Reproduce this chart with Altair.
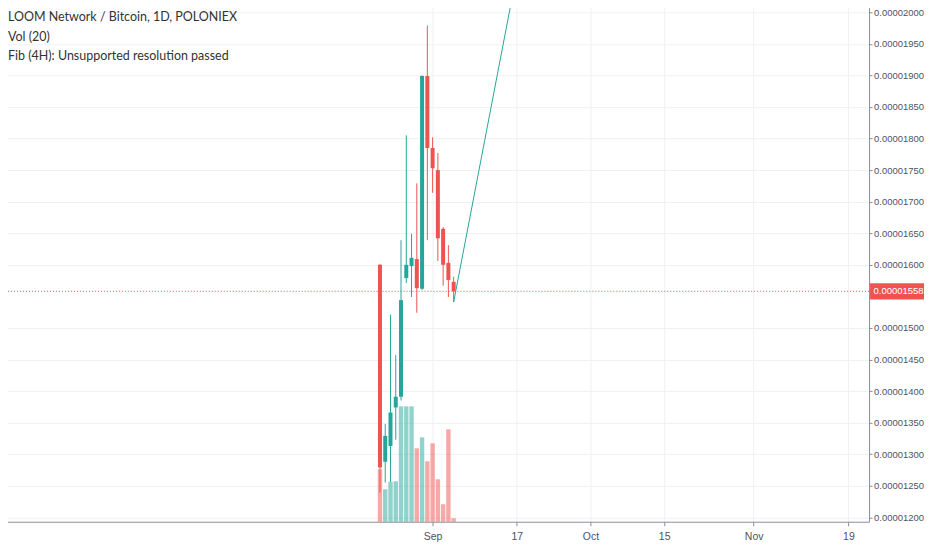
import pandas as pd
import altair as alt

# daily candles, LOOM/BTC on Poloniex (prices in BTC)
dates = ["2018-08-22", "2018-08-23", "2018-08-24", "2018-08-25", "2018-08-26",
         "2018-08-27", "2018-08-28", "2018-08-29", "2018-08-30", "2018-08-31",
         "2018-09-01", "2018-09-02", "2018-09-03", "2018-09-04", "2018-09-05"]
opens = [0.00001600, 0.00001288, 0.00001313, 0.00001374, 0.00001391,
         0.00001579, 0.00001598, 0.00001609, 0.00001562, 0.00001899,
         0.00001785, 0.00001750, 0.00001657, 0.00001603, 0.00001573]
highs = [0.00001601, 0.00001348, 0.00001521, 0.00001457, 0.00001639,
         0.00001805, 0.00001649, 0.00001729, 0.00001900, 0.00001979,
         0.00001802, 0.00001777, 0.00001660, 0.00001631, 0.00001581]
lows = [0.00001239, 0.00001255, 0.00001256, 0.00001323, 0.00001385,
        0.00001571, 0.00001549, 0.00001524, 0.00001560, 0.00001639,
        0.00001714, 0.00001606, 0.00001567, 0.00001549, 0.00001541]
closes = [0.00001279, 0.00001329, 0.00001366, 0.00001391, 0.00001544,
          0.00001600, 0.00001611, 0.00001563, 0.00001899, 0.00001785,
          0.00001753, 0.00001642, 0.00001600, 0.00001576, 0.00001558]
volumes = [5.25, 3.25, 4.0, 4.05, 11.55, 11.55, 11.55, 7.35,
           8.45, 6.05, 7.85, 4.25, 1.75, 9.25, 0.35]

# trend line drawn from the last low
trend_dates = ["2018-09-05", "2018-09-17"]
trend_prices = [0.00001541, 0.00002062]

last_price = 0.00001558

header_lines = ["LOOM Network / Bitcoin, 1D, POLONIEX",
                "Vol (20)",
                "Fib (4H): Unsupported resolution passed"]

tick_dates = ["2018-09-01", "2018-09-17", "2018-10-01",
              "2018-10-15", "2018-11-01", "2018-11-19"]
# 0.00001550 sits under the last-price tag, so it is not listed
price_ticks = [0.00001200, 0.00001250, 0.00001300, 0.00001350, 0.00001400,
               0.00001450, 0.00001500, 0.00001600, 0.00001650,
               0.00001700, 0.00001750, 0.00001800, 0.00001850, 0.00001900,
               0.00001950, 0.00002000]

UP = "#26a69a"
DOWN = "#ef5350"
W, H = 869, 522
AXIS_FONT = "Liberation Sans"
PRICE_FONT_SIZE = 9.5


def to_dt(s, hours=0, minutes=0):
    y, m, d = (int(p) for p in s.split("-"))
    return alt.DateTime(year=y, month=m, date=d, hours=hours, minutes=minutes)


df = pd.DataFrame({
    "date": pd.to_datetime(dates),
    "open": opens, "high": highs, "low": lows, "close": closes,
    "volume": volumes,
})
df["dir"] = ["up" if c >= o else "down" for o, c in zip(opens, closes)]

trend = pd.DataFrame({"date": pd.to_datetime(trend_dates), "price": trend_prices})
price_df = pd.DataFrame({"price": [last_price], "label": [f"{last_price:.8f}"]})

x_scale = alt.Scale(domain=[to_dt("2018-06-11", 22, 48), to_dt("2018-11-21", 23, 24)])
y_scale = alt.Scale(domain=[0.00001193, 0.00002019], zero=False, nice=False)
color = alt.Color("dir:N", scale=alt.Scale(domain=["up", "down"], range=[UP, DOWN]), legend=None)

x_axis = alt.Axis(
    title=None, values=[to_dt(t) for t in tick_dates], tickCount=len(tick_dates),
    labelExpr="date(datum.value) == 1 ? timeFormat(datum.value, '%b') : timeFormat(datum.value, '%-d')",
    grid=True, tickSize=4, labelPadding=6, labelFontSize=10.5,
)
y_axis = alt.Axis(title=None, orient="right", values=price_ticks, tickCount=len(price_ticks),
                  format=".8f", grid=True, tickSize=3, labelPadding=1.5, labelOverlap=False,
                  labelFontSize=PRICE_FONT_SIZE)

base = alt.Chart(df).encode(x=alt.X("date:T", scale=x_scale, axis=x_axis))

volume = base.mark_bar(size=4.4, opacity=0.5).encode(
    y=alt.Y("volume:Q", scale=alt.Scale(domain=[0, 52.2]), axis=None),
    color=color,
)

wicks = base.mark_rule(strokeWidth=1).encode(
    y=alt.Y("low:Q", scale=y_scale, axis=y_axis),
    y2="high:Q",
    color=color,
)
bodies = base.mark_bar(size=4).encode(y="open:Q", y2="close:Q", color=color)

trend_line = alt.Chart(trend).mark_line(color=UP, strokeWidth=1, clip=True).encode(
    x="date:T", y="price:Q"
)

price_rule = alt.Chart(price_df).mark_rule(color=DOWN, strokeDash=[1, 2], strokeWidth=1).encode(
    y="price:Q"
)
price_box = alt.Chart(price_df).mark_point(
    shape="M-1,-0.3L1,-0.3L1,0.3L-1,0.3Z", filled=True, opacity=1,
    size=54 * 54, color=DOWN,
).encode(x=alt.value(W + 28), y="price:Q")
price_text = alt.Chart(price_df).mark_text(
    align="left", baseline="middle", color="white", fontSize=PRICE_FONT_SIZE, font=AXIS_FONT,
).encode(x=alt.value(W + 4.5), y="price:Q", text="label:N")

headers = [
    alt.Chart(pd.DataFrame({"t": [line]})).mark_text(
        align="left", baseline="middle", fontSize=12.5, font="Lato", color="#333333",
    ).encode(x=alt.value(7), y=alt.value(17 + 19.5 * i), text="t:N")
    for i, line in enumerate(header_lines)
]

price_layers = alt.layer(wicks, bodies, trend_line, price_rule, price_box, price_text, *headers)

chart = (
    alt.layer(volume, price_layers)
    .resolve_scale(y="independent")
    .properties(width=W, height=H, padding={"left": -8, "top": -8, "right": 0, "bottom": 0})
    .configure_view(stroke=None)
    .configure_axis(
        labelFont=AXIS_FONT, labelColor="#50535e",
        gridColor="#eef0f4", gridWidth=1,
        domainColor="#8a8d94", tickColor="#8a8d94",
    )
)

chart.save("out.html", embed_options={"renderer": "svg", "actions": False})
